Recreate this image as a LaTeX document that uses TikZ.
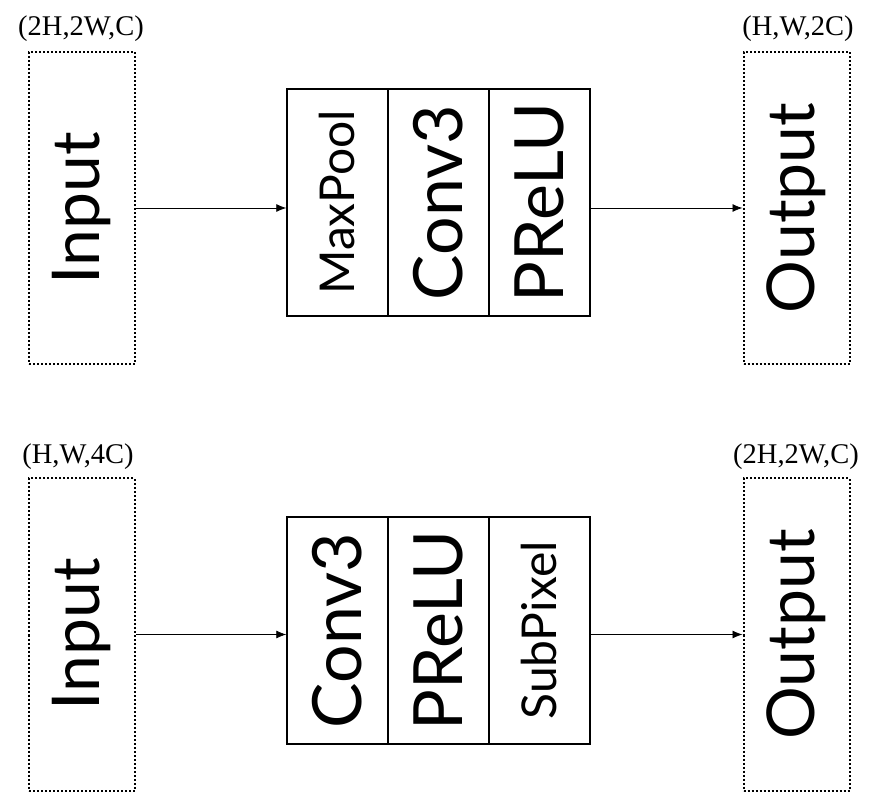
\documentclass[tikz,border=0pt]{standalone}
\usepackage{fontspec}
\setmainfont{Liberation Serif}
\newfontfamily\blockfont{Lato}
\usetikzlibrary{arrows.meta}
\begin{document}
\begin{tikzpicture}[x=1pt,y=-1pt,
  iobox/.style={draw, line width=2pt, dash pattern=on 2pt off 2pt, minimum width=106pt, minimum height=312pt, inner sep=0pt},
  iotext/.style={rotate=90, font=\blockfont\fontsize{66}{66}\selectfont, inner sep=0pt},
  cell/.style={draw, line width=1.4pt, minimum width=101pt, minimum height=227pt, inner sep=0pt},
  bigtext/.style={rotate=90, font=\blockfont\fontsize{68}{68}\selectfont, inner sep=0pt},
  smalltext/.style={rotate=90, font=\blockfont\fontsize{48}{48}\selectfont, inner sep=0pt},
  dimlabel/.style={font=\fontsize{28.5}{28.5}\selectfont, inner sep=0pt},
  conn/.style={line width=0.8pt, -{Latex[length=10pt,width=8pt]}}
]
\useasboundingbox (0,0) rectangle (884,799);
% ---- top row ----
\node[iobox] (in1) at (82,208) {};
\node[iotext] at (in1.center) {Input};
\node[dimlabel] at (81,29) {(2H,2W,C)};
\node[cell] (a1) at (337.5,202.5) {};
\node[cell] (b1) at (438.5,202.5) {};
\node[cell] (c1) at (539.5,202.5) {};
\node[smalltext] at (a1.center) {MaxPool};
\node[bigtext] at (b1.center) {Conv3};
\node[bigtext] at (c1.center) {PReLU};
\node[iobox] (out1) at (796.5,208) {};
\node[iotext] at (out1.center) {Output};
\node[dimlabel] at (798,29) {(H,W,2C)};
\draw[conn] (in1.east) -- (a1.west |- in1.east);
\draw[conn] (c1.east |- out1.west) -- (out1.west);
% ---- bottom row ----
\node[iobox] (in2) at (82,634.5) {};
\node[iotext] at (in2.center) {Input};
\node[dimlabel] at (78,457) {(H,W,4C)};
\node[cell] (a2) at (337.5,630.5) {};
\node[cell] (b2) at (438.5,630.5) {};
\node[cell] (c2) at (539.5,630.5) {};
\node[bigtext] at (a2.center) {Conv3};
\node[bigtext] at (b2.center) {PReLU};
\node[smalltext] at (c2.center) {SubPixel};
\node[iobox] (out2) at (796.5,634.5) {};
\node[iotext] at (out2.center) {Output};
\node[dimlabel] at (796,457) {(2H,2W,C)};
\draw[conn] (in2.east) -- (a2.west |- in2.east);
\draw[conn] (c2.east |- out2.west) -- (out2.west);
\end{tikzpicture}
\end{document}
